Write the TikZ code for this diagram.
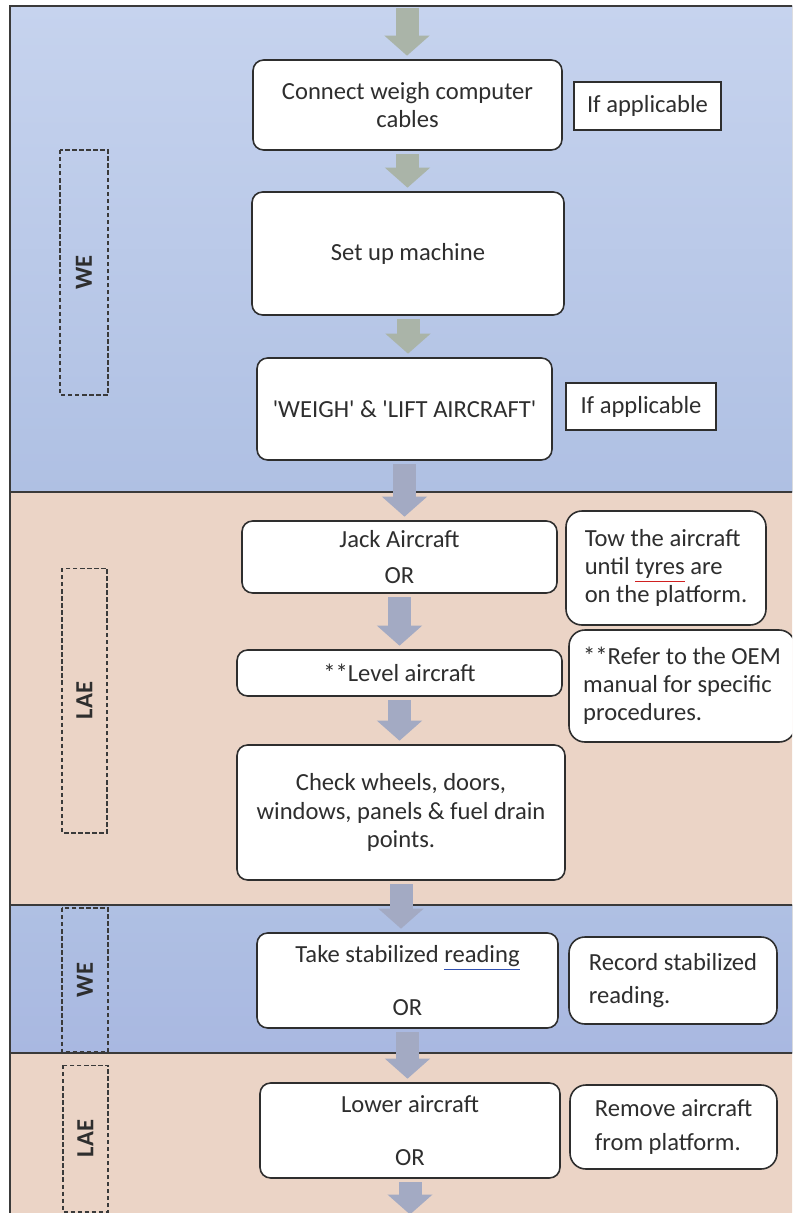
\documentclass[tikz,border=0pt]{standalone}
\usepackage{fontspec}
\setmainfont{Carlito}
\usepackage{xcolor}
\definecolor{LaneBlueTop}{HTML}{C6D3EE}
\definecolor{LaneBlueBot}{HTML}{AFC0E3}
\definecolor{LaneBlueDeep}{HTML}{A9B8E1}
\definecolor{LanePeach}{HTML}{EBD4C6}
\definecolor{RuleDark}{HTML}{3A3A3A}
\definecolor{BoxEdge}{HTML}{2E2E2E}
\definecolor{InkText}{HTML}{2E2E2E}
\definecolor{ArrowSage}{HTML}{AAB4A8}
\definecolor{ArrowSlate}{HTML}{A3AAC3}
\definecolor{SpellRed}{HTML}{D02020}
\definecolor{GrammarBlue}{HTML}{3050B0}
\usetikzlibrary{arrows.meta}

% Word-Markierungen im Text
\newcommand{\spellmark}[1]{{\color{SpellRed}\underline{\textcolor{InkText}{#1}}}}
\newcommand{\grammarmark}[1]{{\color{GrammarBlue}\underline{\textcolor{InkText}{#1}}}}

\begin{document}
\begin{tikzpicture}[x=0.02cm, y=-0.02cm,
  font=\fontsize{14}{16}\selectfont,
  % Grundstile
  stepbox/.style={
    draw=BoxEdge,
    line width=0.9pt,
    fill=white,
    rounded corners=6pt,
    align=center,
    inner sep=2pt,
    text=InkText
  },
  notebox/.style={
    draw=BoxEdge,
    line width=0.9pt,
    fill=white,
    rounded corners=9pt,
    align=left,
    inner sep=2pt,
    text=InkText
  },
  tagbox/.style={
    draw=BoxEdge,
    line width=0.9pt,
    fill=white,
    text=InkText
  },
  lanetag/.style={
    draw=RuleDark,
    dash pattern=on 2.5pt off 1.5pt,
    line width=0.6pt,
    rotate=90,
    font=\fontsize{14}{16}\selectfont\bfseries,
    text=InkText
  },
  flowarrow/.style={
    draw=#1,
    line width=0.46cm,
    -{Triangle[length=0.4cm, width=0.88cm]},
    shorten <=2pt,
    shorten >=2pt
  },
  flowarrow/.default=ArrowSlate,
  lanerule/.style={
    draw=RuleDark,
    line width=1.2pt
  }
]

\useasboundingbox (0,0) rectangle (792,1213);
\clip (0,0) rectangle (792,1213);
\fill[white] (0,0) rectangle (792,1213);

% =============================================================================
% BAHNEN
% =============================================================================
\fill[top color=LaneBlueTop, bottom color=LaneBlueBot] (10,6) rectangle (800,492);
\fill[LanePeach] (10,492) rectangle (800,905);
\fill[top color=LaneBlueBot, bottom color=LaneBlueDeep] (10,905) rectangle (800,1053);
\fill[LanePeach] (10,1053) rectangle (800,1220);

\draw[lanerule] (10,1220) -- (10,6) -- (800,6);
\foreach \y in {492, 905, 1053} {
  \draw[lanerule] (10,\y) -- (800,\y);
}

% Zustaendigkeit
\node[lanetag, minimum width=4.9cm, minimum height=0.96cm] (we1) at (84,272.5) {WE};
\node[lanetag, minimum width=5.3cm, minimum height=0.9cm] (lae1) at (84.5,700.5) {LAE};
\node[lanetag, minimum width=2.88cm, minimum height=0.92cm] (we2) at (85,980) {WE};
\node[lanetag, minimum width=2.94cm, minimum height=0.9cm] (lae2) at (85.5,1138.5) {LAE};

% =============================================================================
% ABLAUF
% =============================================================================
\node[stepbox, minimum width=6.18cm, minimum height=1.8cm] (connect) at (407.5,105) {Connect weigh computer\\cables};
\node[stepbox, minimum width=6.24cm, minimum height=2.46cm] (setup) at (408,253.5) {Set up machine};
\node[stepbox, minimum width=5.9cm, minimum height=2.04cm] (weigh) at (404.5,409) {\textquotesingle WEIGH\textquotesingle{} \& \textquotesingle LIFT AIRCRAFT\textquotesingle};
\node[stepbox, minimum width=6.3cm, minimum height=1.44cm] (jack) at (399.5,557) {Jack Aircraft\\[5pt]OR};
\node[stepbox, minimum width=6.5cm, minimum height=0.92cm] (level) at (399.5,673) {**Level aircraft};
\node[stepbox, minimum width=6.56cm, minimum height=2.7cm] (check) at (401,812.5) {Check wheels, doors,\\windows, panels \& fuel drain\\points.};
\node[stepbox, minimum width=6.02cm, minimum height=1.9cm] (reading) at (407.5,980.5) {Take stabilized \grammarmark{reading}\\[14pt]OR};
\node[stepbox, minimum width=6cm, minimum height=1.9cm] (lower) at (410,1130.5) {Lower aircraft\\[14pt]OR};

% Hinweise rechts
\node[tagbox, minimum width=2.94cm, minimum height=0.96cm] (ifconnect) at (647.5,106) {If applicable};
\node[tagbox, minimum width=3cm, minimum height=0.94cm] (iflift) at (641,406.5) {If applicable};
\node[notebox, minimum width=4cm, minimum height=2.28cm] (tow) at (666,568) {Tow the aircraft\\until \spellmark{tyres} are\\on the platform.};
\node[notebox, minimum width=4.52cm, minimum height=2.24cm] (oem) at (682,686) {**Refer to the OEM\\manual for specific\\procedures.};
\node[notebox, minimum width=4.16cm, minimum height=1.74cm] (record) at (673,980.5) {Record stabilized\\[3pt]reading.};
\node[notebox, minimum width=4.14cm, minimum height=1.68cm] (remove) at (673.5,1127) {Remove aircraft\\[3pt]from platform.};

% Pfeile
\coordinate (flowin) at (407,4);
\coordinate (flowout) at (410,1218);
\draw[flowarrow=ArrowSage] (flowin) -- (flowin |- connect.north);
\draw[flowarrow=ArrowSage] (connect.south) -- (connect.south |- setup.north);
\draw[flowarrow=ArrowSage] (setup.south) -- (setup.south |- weigh.north);
\draw[flowarrow] (weigh.south) -- (weigh.south |- jack.north);
\draw[flowarrow] (jack.south) -- (jack.south |- level.north);
\draw[flowarrow] (level.south) -- (level.south |- check.north);
\draw[flowarrow] (check.south) -- (check.south |- reading.north);
\draw[flowarrow] (reading.south) -- (reading.south |- lower.north);
\draw[flowarrow] (lower.south) -- (lower.south |- flowout);

\end{tikzpicture}
\end{document}
